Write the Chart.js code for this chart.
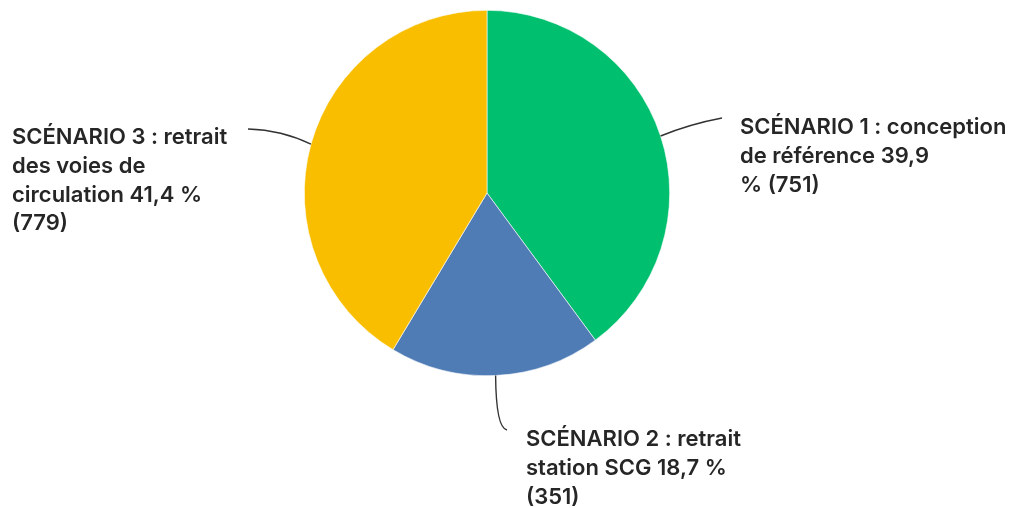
<!DOCTYPE html>
<html lang="fr">
<head>
<meta charset="utf-8">
<script src="https://cdn.jsdelivr.net/npm/chart.js@4/dist/chart.umd.min.js"></script>
<style>
  html, body { margin: 0; padding: 0; background: #fff; }
  #wrap { width: 1010px; height: 508px; position: relative; }
</style>
</head>
<body>
<div id="wrap"><canvas id="chart"></canvas></div>
<script>
// ============================================================
// DONNÉES
// ============================================================
const categories = ['SCÉNARIO 1', 'SCÉNARIO 2', 'SCÉNARIO 3'];
const valeurs    = [39.9, 18.7, 41.4];      // %
const effectifs  = [751, 351, 779];
const couleurs   = ['#00BF6F', '#507CB6', '#F9BE00'];

// texte des étiquettes, découpé en lignes comme sur l'original
const etiquettes = [
  ['SCÉNARIO 1 : conception', 'de référence 39,9', '% (751)'],
  ['SCÉNARIO 2 : retrait', 'station SCG 18,7 %', '(351)'],
  ['SCÉNARIO 3 : retrait', 'des voies de', 'circulation 41,4 %', '(779)'],
];

// ============================================================
// PLUGIN — étiquettes extérieures + traits de rappel
// ============================================================
const etiquettesExterieures = {
  id: 'etiquettesExterieures',
  afterDatasetsDraw(chart, args, opts) {
    const ctx  = chart.ctx;
    const arcs = chart.getDatasetMeta(0).data;
    ctx.save();
    arcs.forEach((arc, i) => {
      const p   = arc.getProps(['x', 'y', 'startAngle', 'endAngle', 'outerRadius'], true);
      const mid = (p.startAngle + p.endAngle) / 2;
      const ax  = p.x + Math.cos(mid) * p.outerRadius;
      const ay  = p.y + Math.sin(mid) * p.outerRadius;
      const pos = opts.positions[i];

      // trait de rappel
      ctx.strokeStyle = '#333';
      ctx.lineWidth = 1.4;
      ctx.beginPath();
      ctx.moveTo(ax, ay);
      ctx.quadraticCurveTo(pos.cx, pos.cy, pos.lx, pos.ly);
      ctx.stroke();

      // texte
      ctx.fillStyle = '#262626';
      ctx.font = '600 22px Inter, sans-serif';
      ctx.textAlign = 'left';
      ctx.textBaseline = 'alphabetic';
      etiquettes[i].forEach((ligne, k) => {
        ctx.fillText(ligne, pos.tx, pos.ty + k * 28.8);
      });
    });
    ctx.restore();
  }
};

// ============================================================
// GRAPHIQUE
// ============================================================
new Chart(document.getElementById('chart'), {
  type: 'pie',
  data: {
    labels: categories,
    datasets: [{
      data: valeurs,
      backgroundColor: couleurs,
      borderColor: '#ffffff',
      borderWidth: 0.6,
    }]
  },
  options: {
    responsive: true,
    maintainAspectRatio: false,
    animation: false,
    layout: { padding: { top: 10, bottom: 132, left: 200, right: 236 } },
    plugins: {
      legend: { display: false },
      tooltip: {
        callbacks: {
          label: ctx => ctx.label + ' : ' + ctx.parsed.toFixed(1).replace('.', ',') + ' % (' + effectifs[ctx.dataIndex] + ')'
        }
      },
      etiquettesExterieures: {
        positions: [
          { tx: 740, ty: 134, lx: 722, ly: 118, cx: 690, cy: 124 },
          { tx: 526, ty: 446, lx: 507, ly: 430, cx: 496, cy: 428 },
          { tx: 12,  ty: 144, lx: 248, ly: 129, cx: 282, cy: 130 },
        ]
      }
    }
  },
  plugins: [etiquettesExterieures]
});
</script>
</body>
</html>
